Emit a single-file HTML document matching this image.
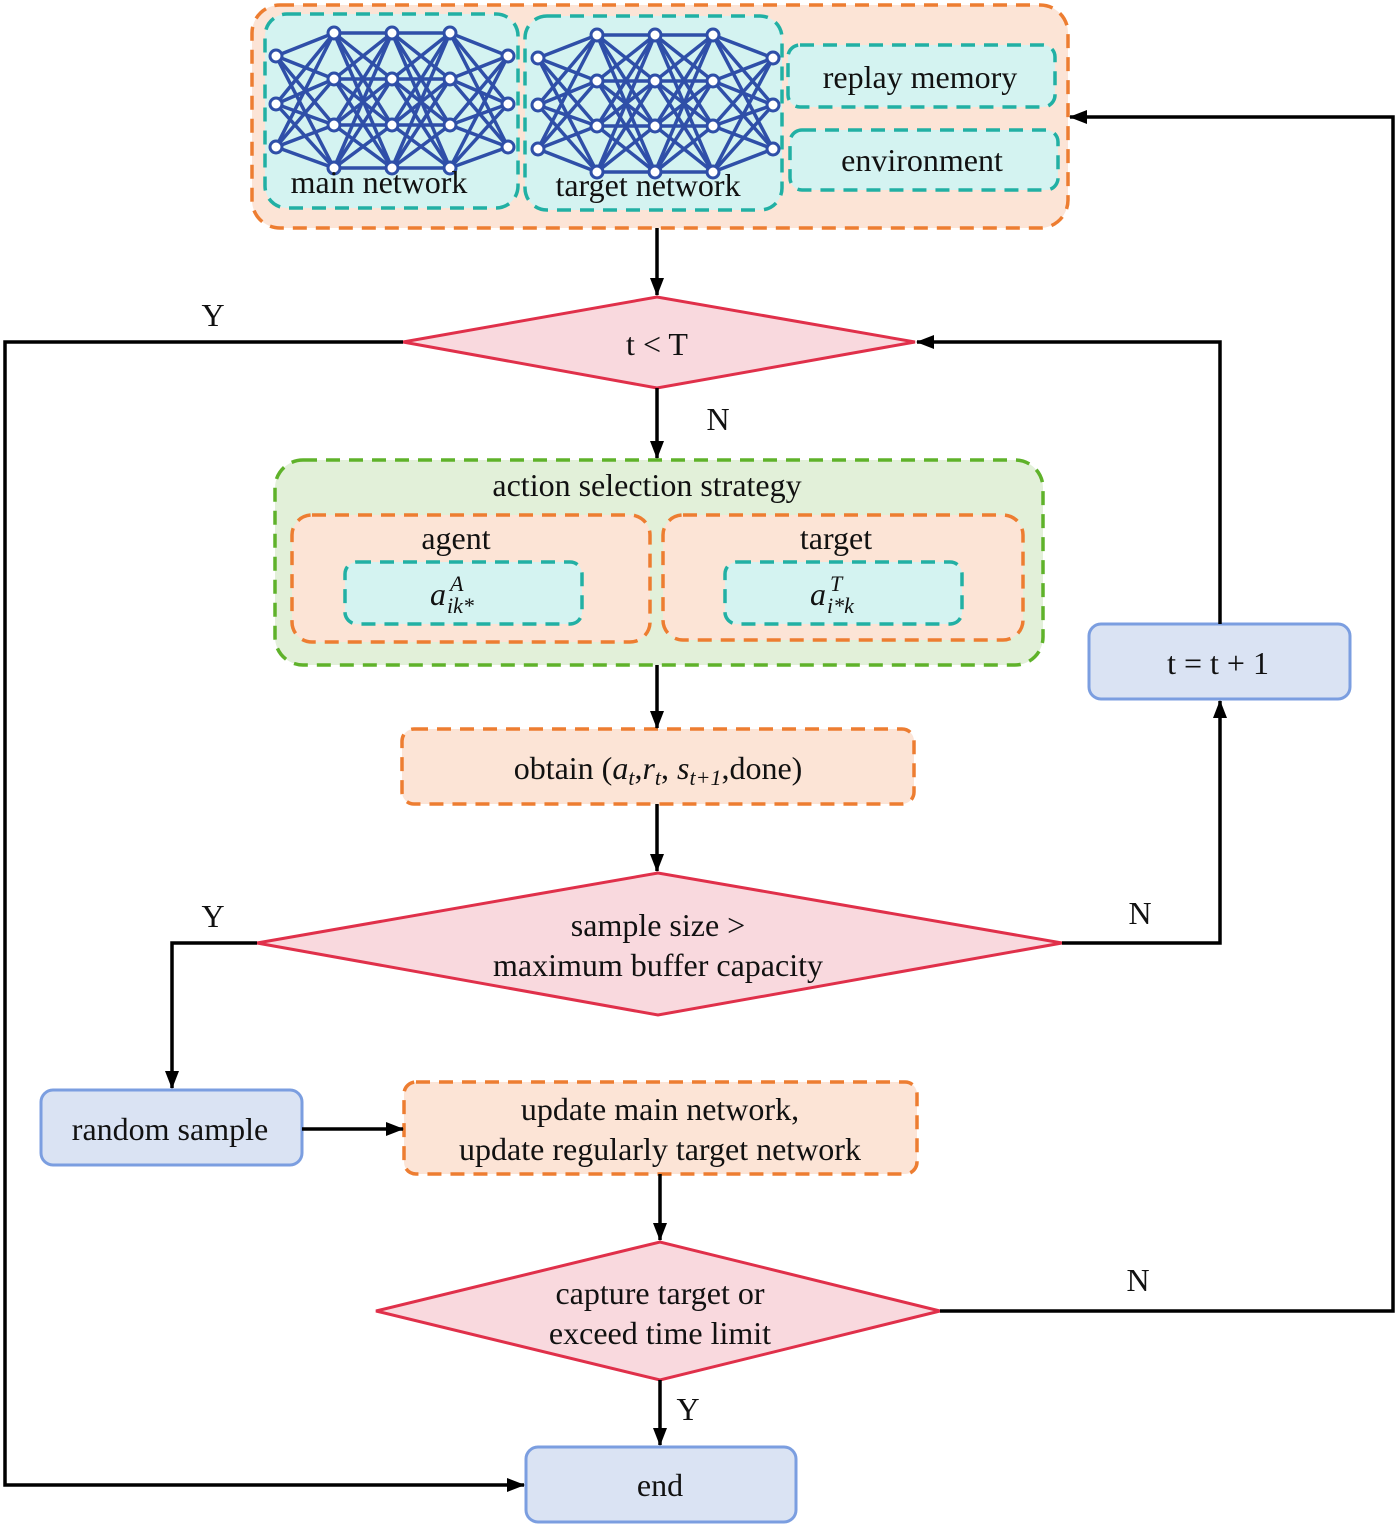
<!DOCTYPE html>
<html><head><meta charset="utf-8"><style>
html,body{margin:0;padding:0;background:#fff;}
svg{display:block;}
text{font-family:"Liberation Serif",serif;fill:#111;}
</style></head><body>
<svg id="s" width="1400" height="1530" viewBox="0 0 1400 1530" xmlns="http://www.w3.org/2000/svg">
<defs>
<marker id="b" markerWidth="18" markerHeight="14" refX="17" refY="7" orient="auto" markerUnits="userSpaceOnUse">
<path d="M0,0 L18,7 L0,14 z" fill="#000"/></marker>
</defs>
<g stroke-dasharray="14,9" stroke-width="3.5">
<rect x="252" y="5" width="816" height="223" rx="28" fill="#fce4d6" stroke="#ed7d31"/>
<rect x="265" y="14" width="253" height="194" rx="22" fill="#d4f3f1" stroke="#21b0a4"/>
<rect x="525" y="16" width="257" height="194" rx="22" fill="#d4f3f1" stroke="#21b0a4"/>
<rect x="788" y="45" width="267" height="62" rx="12" fill="#d4f3f1" stroke="#21b0a4"/>
<rect x="790" y="130" width="268" height="60" rx="12" fill="#d4f3f1" stroke="#21b0a4"/>
<rect x="275" y="460" width="768" height="205" rx="28" fill="#e2f0d9" stroke="#5fb22a"/>
<rect x="292" y="515" width="358" height="127" rx="20" fill="#fce4d6" stroke="#ed7d31"/>
<rect x="663" y="515" width="360" height="125" rx="20" fill="#fce4d6" stroke="#ed7d31"/>
<rect x="345" y="562" width="237" height="62" rx="12" fill="#d4f3f1" stroke="#21b0a4"/>
<rect x="725" y="562" width="237" height="62" rx="12" fill="#d4f3f1" stroke="#21b0a4"/>
<rect x="402" y="729" width="512" height="75" rx="12" fill="#fce4d6" stroke="#ed7d31"/>
<rect x="404" y="1082" width="513" height="92" rx="12" fill="#fce4d6" stroke="#ed7d31"/>
</g>
<g id="nets" stroke="#2f4fa8" stroke-width="3.5"></g>
<g fill="#f9d9de" stroke="#e0304a" stroke-width="3">
<polygon points="403,342 657,297 915,342 657,388"/>
<polygon points="257,943 658,873 1062,943 658,1015"/>
<polygon points="376,1311 660,1242 940,1311 660,1380"/>
</g>
<g fill="#dae3f3" stroke="#7b9ee0" stroke-width="3">
<rect x="1089" y="624" width="261" height="75" rx="12"/>
<rect x="41" y="1090" width="261" height="75" rx="12"/>
<rect x="526" y="1447" width="270" height="75" rx="12"/>
</g>
<g stroke="#000" stroke-width="3.5" fill="none">
<line x1="657" y1="228" x2="657" y2="295" marker-end="url(#b)"/>
<line x1="657" y1="388" x2="657" y2="458" marker-end="url(#b)"/>
<line x1="657" y1="665" x2="657" y2="728" marker-end="url(#b)"/>
<line x1="657" y1="804" x2="657" y2="871" marker-end="url(#b)"/>
<line x1="660" y1="1174" x2="660" y2="1240" marker-end="url(#b)"/>
<line x1="660" y1="1380" x2="660" y2="1445" marker-end="url(#b)"/>
<line x1="302" y1="1129" x2="403" y2="1129" marker-end="url(#b)"/>
<polyline points="403,342 5,342 5,1485 524,1485" marker-end="url(#b)"/>
<polyline points="257,943 172,943 172,1088" marker-end="url(#b)"/>
<polyline points="1062,943 1220,943 1220,701" marker-end="url(#b)"/>
<polyline points="1220,624 1220,342 917,342" marker-end="url(#b)"/>
<polyline points="940,1311 1393,1311 1393,117 1070,117" marker-end="url(#b)"/>
</g>
<g font-size="32" text-anchor="middle">
<text x="379" y="193">main network</text>
<text x="648" y="196">target network</text>
<text x="920" y="88">replay memory</text>
<text x="922" y="171">environment</text>
<text x="657" y="355">t &lt; T</text>
<text x="213" y="326">Y</text>
<text x="718" y="430">N</text>
<text x="647" y="496">action selection strategy</text>
<text x="456" y="549">agent</text>
<text x="836" y="549">target</text>
<text x="658" y="779">obtain (<tspan font-style="italic">a</tspan><tspan font-style="italic" font-size="22" dy="6">t</tspan><tspan dy="-6">,</tspan><tspan font-style="italic">r</tspan><tspan font-style="italic" font-size="22" dy="6">t</tspan><tspan dy="-6">, </tspan><tspan font-style="italic">s</tspan><tspan font-style="italic" font-size="22" dy="6">t+1</tspan><tspan dy="-6">,done)</tspan></text>
<text x="658" y="936">sample size &gt;</text>
<text x="658" y="976">maximum buffer capacity</text>
<text x="213" y="927">Y</text>
<text x="1140" y="924">N</text>
<text x="1218" y="674">t = t + 1</text>
<text x="170" y="1140">random sample</text>
<text x="660" y="1120">update main network,</text>
<text x="660" y="1160">update regularly target network</text>
<text x="660" y="1304">capture target or</text>
<text x="660" y="1344">exceed time limit</text>
<text x="1138" y="1291">N</text>
<text x="688" y="1420">Y</text>
<text x="660" y="1496">end</text>
</g>
<g font-style="italic">
<text x="430" y="605" font-size="32">a</text>
<text x="450" y="591" font-size="22">A</text>
<text x="447" y="613" font-size="22">ik*</text>
<text x="810" y="605" font-size="32">a</text>
<text x="830" y="591" font-size="22">T</text>
<text x="827" y="613" font-size="22">i*k</text>
</g>
</svg>
<script>
(function(){
var g=document.getElementById('nets'),ns='http://www.w3.org/2000/svg';
function net(xs,y3,y4){
 var L=[y3,y4,y4,y4,y3];var pts=xs.map(function(x,i){return L[i].map(function(y){return [x,y];});});
 for(var i=0;i<4;i++)pts[i].forEach(function(p){pts[i+1].forEach(function(q){
  var l=document.createElementNS(ns,'line');l.setAttribute('x1',p[0]);l.setAttribute('y1',p[1]);l.setAttribute('x2',q[0]);l.setAttribute('y2',q[1]);g.appendChild(l);});});
 pts.forEach(function(a){a.forEach(function(p){var c=document.createElementNS(ns,'circle');c.setAttribute('cx',p[0]);c.setAttribute('cy',p[1]);c.setAttribute('r',6);c.setAttribute('fill','#fff');c.setAttribute('stroke-width','3');g.appendChild(c);});});
}
net([276,334,392,450,508],[56,104,147],[33,79,125,168]);
net([538,597,655,713,773],[58,105,149],[35,81,126,172]);
})();
</script>
</body></html>
